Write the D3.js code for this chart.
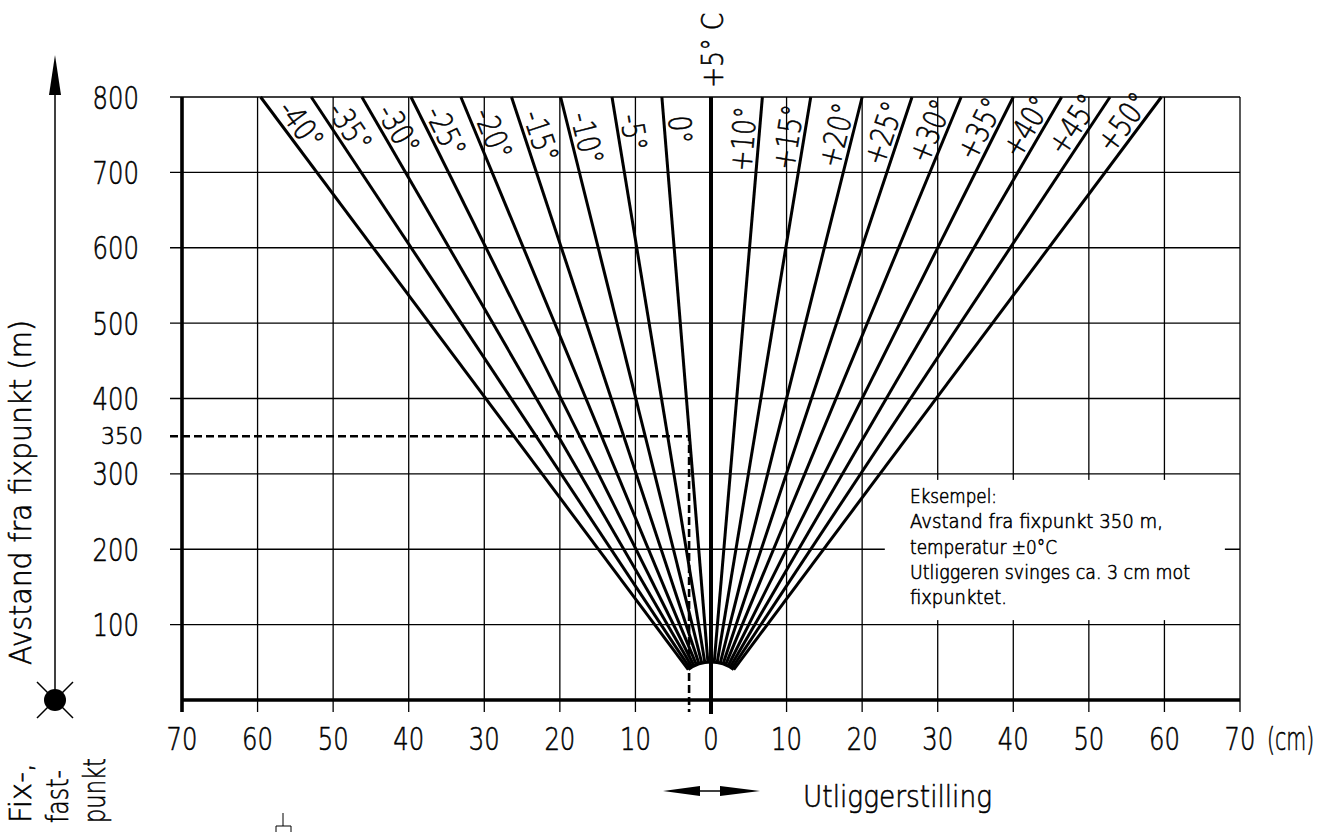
<!DOCTYPE html>
<html>
<head>
<meta charset="utf-8">
<script src="https://cdn.jsdelivr.net/npm/d3@7"></script>
<style>
  html, body { margin: 0; padding: 0; background: #fff; }
  svg { display: block; }
  text { font-family: "DejaVu Sans", sans-serif; font-weight: 200; fill: #000; stroke: #000; stroke-width: 0.6px; }
</style>
</head>
<body>
<div id="mainDiv"></div>
<script>
// Chart data
const temperatures = [-40, -35, -30, -25, -20, -15, -10, -5, 0, 5, 10, 15, 20, 25, 30, 35, 40, 45, 50];
// cantilever position (cm) reached by each temperature line at 800 m
const positionsAt800 = [-59.6, -52.9, -46.2, -39.7, -33.1, -26.4, -19.9, -13.1, -6.5, 0, 6.8, 13.2, 20.0, 26.6, 33.1, 40.0, 46.4, 52.8, 59.6];
const lineLabels = ["-40°", "-35°", "-30°", "-25°", "-20°", "-15°", "-10°", "-5°", "0°", "+5° C",
  "+10°", "+15°", "+20°", "+25°", "+30°", "+35°", "+40°", "+45°", "+50°"];
const xTicks = [-70, -60, -50, -40, -30, -20, -10, 0, 10, 20, 30, 40, 50, 60, 70];
const yTicks = [100, 200, 300, 400, 500, 600, 700, 800];
const exampleDistance = 350;
const examplePosition = -2.9;
const exampleLines = ["Eksempel:", "Avstand fra fixpunkt 350 m,", "temperatur ±0°C",
  "Utliggeren svinges ca. 3 cm mot", "fixpunktet."];

const chartSize = { width: 1321, height: 832, margin: { top: 97, right: 81, bottom: 132, left: 182 } };

// narrow the glyphs so the lettering looks like the drawing standard
function squeeze(sel, ratio) {
  sel.each(function () {
    let w = this.getComputedTextLength();
    d3.select(this)
      .attr("textLength", w * ratio)
      .attr("lengthAdjust", "spacingAndGlyphs");
  });
}

function fitTo(sel, width) {
  sel.attr("textLength", width).attr("lengthAdjust", "spacingAndGlyphs");
}

const svg = d3.select("#mainDiv")
  .append("svg")
  .attr("width", chartSize.width)
  .attr("height", chartSize.height)
  .attr("viewBox", [0, 0, chartSize.width, chartSize.height]);

let x = d3.scaleLinear()
  .domain([-70, 70])
  .range([chartSize.margin.left, chartSize.width - chartSize.margin.right]);

let y = d3.scaleLinear()
  .domain([0, 800])
  .range([chartSize.height - chartSize.margin.bottom, chartSize.margin.top]);

// grid
let grid = svg.append("g").attr("stroke", "#000").attr("stroke-width", 1.3);
grid.selectAll("line.h")
  .data(yTicks)
  .join("line")
  .attr("class", "h")
  .attr("x1", x(-70) - 12).attr("x2", x(70))
  .attr("y1", d => y(d)).attr("y2", d => y(d));
grid.selectAll("line.v")
  .data(xTicks.slice(1))
  .join("line")
  .attr("class", "v")
  .attr("x1", d => x(d)).attr("x2", d => x(d))
  .attr("y1", y(800)).attr("y2", y(0) + 12);

// y tick labels
svg.append("g")
  .selectAll("text")
  .data(yTicks)
  .join("text")
  .attr("x", 139)
  .attr("y", d => y(d))
  .attr("dy", "0.36em")
  .attr("text-anchor", "end")
  .attr("font-size", 32)
  .call(s => s.text(d => d))
  .call(squeeze, 0.76);
svg.append("text")
  .attr("x", 143).attr("y", y(exampleDistance)).attr("dy", "0.36em")
  .attr("text-anchor", "end").attr("font-size", 23)
  .text(exampleDistance)
  .call(fitTo, 42);

// x tick labels
svg.append("g")
  .selectAll("text")
  .data(xTicks)
  .join("text")
  .attr("x", d => x(d))
  .attr("y", y(0) + 38)
  .attr("dy", "0.36em")
  .attr("text-anchor", "middle")
  .attr("font-size", 32)
  .call(s => s.text(d => Math.abs(d)))
  .call(squeeze, 0.76);
svg.append("text")
  .attr("transform", `translate(1267,${y(0) + 38}) scale(0.64,1)`)
  .attr("dy", "0.36em")
  .attr("font-size", 32)
  .text("(cm)");

// example box
let boxX = x(23), boxW = x(68) - boxX;
svg.append("rect")
  .attr("x", boxX).attr("y", y(292))
  .attr("width", boxW).attr("height", y(106) - y(292))
  .attr("fill", "#fff");
const exampleWidths = [87, 253, 147, 280, 97];
svg.append("g")
  .selectAll("text")
  .data(exampleLines)
  .join("text")
  .attr("x", 910)
  .attr("y", (d, i) => 503 + i * 25.3)
  .attr("font-size", 19)
  .attr("textLength", (d, i) => exampleWidths[i])
  .attr("lengthAdjust", "spacingAndGlyphs")
  .text(d => d);

// example dashed lines
svg.append("path")
  .attr("d", `M${x(-70) - 12},${y(exampleDistance)}H${x(examplePosition)}V${y(0) + 12}`)
  .attr("fill", "none")
  .attr("stroke", "#000")
  .attr("stroke-width", 2.6)
  .attr("stroke-dasharray", "8,4");

// frame
svg.append("path")
  .attr("d", `M${x(-70)},${y(800)}V${y(0) + 12}M${x(-70)},${y(0)}H${x(70)}`)
  .attr("fill", "none")
  .attr("stroke", "#000")
  .attr("stroke-width", 3.6);

// temperature lines, rays from the fixpoint starting on a small arc
const origin = [x(0), y(0)];
const startRadius = 38;
let rays = temperatures.map((t, i) => {
  let top = [x(positionsAt800[i]), y(800)];
  let dx = top[0] - origin[0], dy = top[1] - origin[1];
  let len = Math.hypot(dx, dy);
  return { t, label: lineLabels[i], top, ux: dx / len, uy: dy / len };
});

svg.append("g")
  .selectAll("line")
  .data(rays.filter(r => r.t != 5))
  .join("line")
  .attr("x1", r => origin[0] + r.ux * startRadius)
  .attr("y1", r => origin[1] + r.uy * startRadius)
  .attr("x2", r => r.top[0])
  .attr("y2", r => r.top[1])
  .attr("stroke", "#000")
  .attr("stroke-width", 3);

// the +5 line is the zero axis
svg.append("line")
  .attr("x1", x(0)).attr("x2", x(0))
  .attr("y1", y(800)).attr("y2", y(0) + 14)
  .attr("stroke", "#000")
  .attr("stroke-width", 4);

let first = rays[0], last = rays[rays.length - 1];
let arc = d3.arc()
  .innerRadius(startRadius)
  .outerRadius(startRadius)
  .startAngle(Math.atan2(first.ux, -first.uy))
  .endAngle(Math.atan2(last.ux, -last.uy));
svg.append("path")
  .attr("transform", `translate(${origin[0]},${origin[1]})`)
  .attr("d", arc())
  .attr("fill", "none")
  .attr("stroke", "#000")
  .attr("stroke-width", 3);

// line labels: cold side reads down the line, warm side reads up
const labelOffset = 16;
svg.append("g")
  .selectAll("text")
  .data(rays.filter(r => r.t != 5))
  .join("text")
  .attr("transform", r => {
    let cold = r.t < 5;
    let along = cold ? 20 : 11;
    let px = r.top[0] - r.ux * along, py = r.top[1] - r.uy * along;
    let nx = -r.uy, ny = r.ux;
    if (nx < 0) { nx = -nx; ny = -ny; }
    let side = cold ? 1 : -1;
    px += side * nx * labelOffset;
    py += side * ny * labelOffset;
    let ang = cold
      ? Math.atan2(-r.uy, -r.ux) * 180 / Math.PI
      : Math.atan2(r.uy, r.ux) * 180 / Math.PI;
    return `translate(${px},${py}) rotate(${ang})`;
  })
  .attr("text-anchor", r => r.t < 5 ? "start" : "end")
  .attr("dy", "0.36em")
  .attr("font-size", 31)
  .call(s => s.text(r => r.label))
  .call(squeeze, 0.8);

svg.append("text")
  .attr("transform", `translate(${x(0) + 1},88) rotate(-90) scale(0.84,1)`)
  .attr("dy", "0.36em")
  .attr("font-size", 30)
  .text(lineLabels[temperatures.indexOf(5)]);

// distance axis with arrow and fixpoint
svg.append("line")
  .attr("x1", 55).attr("x2", 55)
  .attr("y1", y(0)).attr("y2", 90)
  .attr("stroke", "#000").attr("stroke-width", 1.5);
svg.append("path")
  .attr("d", "M55,55L61,95L49,95Z")
  .attr("fill", "#000");
svg.append("path")
  .attr("d", `M37,${y(0) - 18}L73,${y(0) + 18}M73,${y(0) - 18}L37,${y(0) + 18}`)
  .attr("stroke", "#000").attr("stroke-width", 1.5);
svg.append("circle")
  .attr("cx", 55).attr("cy", y(0)).attr("r", 11)
  .attr("fill", "#000");

svg.append("text")
  .attr("transform", `translate(20,${(320 + 665) / 2}) rotate(-90)`)
  .attr("text-anchor", "middle")
  .attr("dy", "0.36em")
  .attr("font-size", 31)
  .text("Avstand fra fixpunkt (m)")
  .call(fitTo, 345);

const fixWidths = [60, 53, 65];
svg.append("g")
  .selectAll("text")
  .data(["Fix-,", "fast-", "punkt"])
  .join("text")
  .attr("transform", (d, i) => `translate(${20 + i * 37},823) rotate(-90)`)
  .attr("dy", "0.36em")
  .attr("font-size", 31)
  .attr("textLength", (d, i) => fixWidths[i])
  .attr("lengthAdjust", "spacingAndGlyphs")
  .text(d => d);

// cantilever position arrow
svg.append("line")
  .attr("x1", 690).attr("x2", 730)
  .attr("y1", 791).attr("y2", 791)
  .attr("stroke", "#000").attr("stroke-width", 1.3);
svg.append("path")
  .attr("d", "M663,791L700,786L700,796Z M760,791L720,786L720,796Z")
  .attr("fill", "#000");
svg.append("text")
  .attr("x", 803).attr("y", 796)
  .attr("dy", "0.36em")
  .attr("font-size", 31)
  .text("Utliggerstilling")
  .call(fitTo, 189);

// small mark at the bottom edge
svg.append("path")
  .attr("d", "M283,813V826M276,832V826H291V832")
  .attr("fill", "none")
  .attr("stroke", "#000")
  .attr("stroke-width", 1);
</script>
</body>
</html>
